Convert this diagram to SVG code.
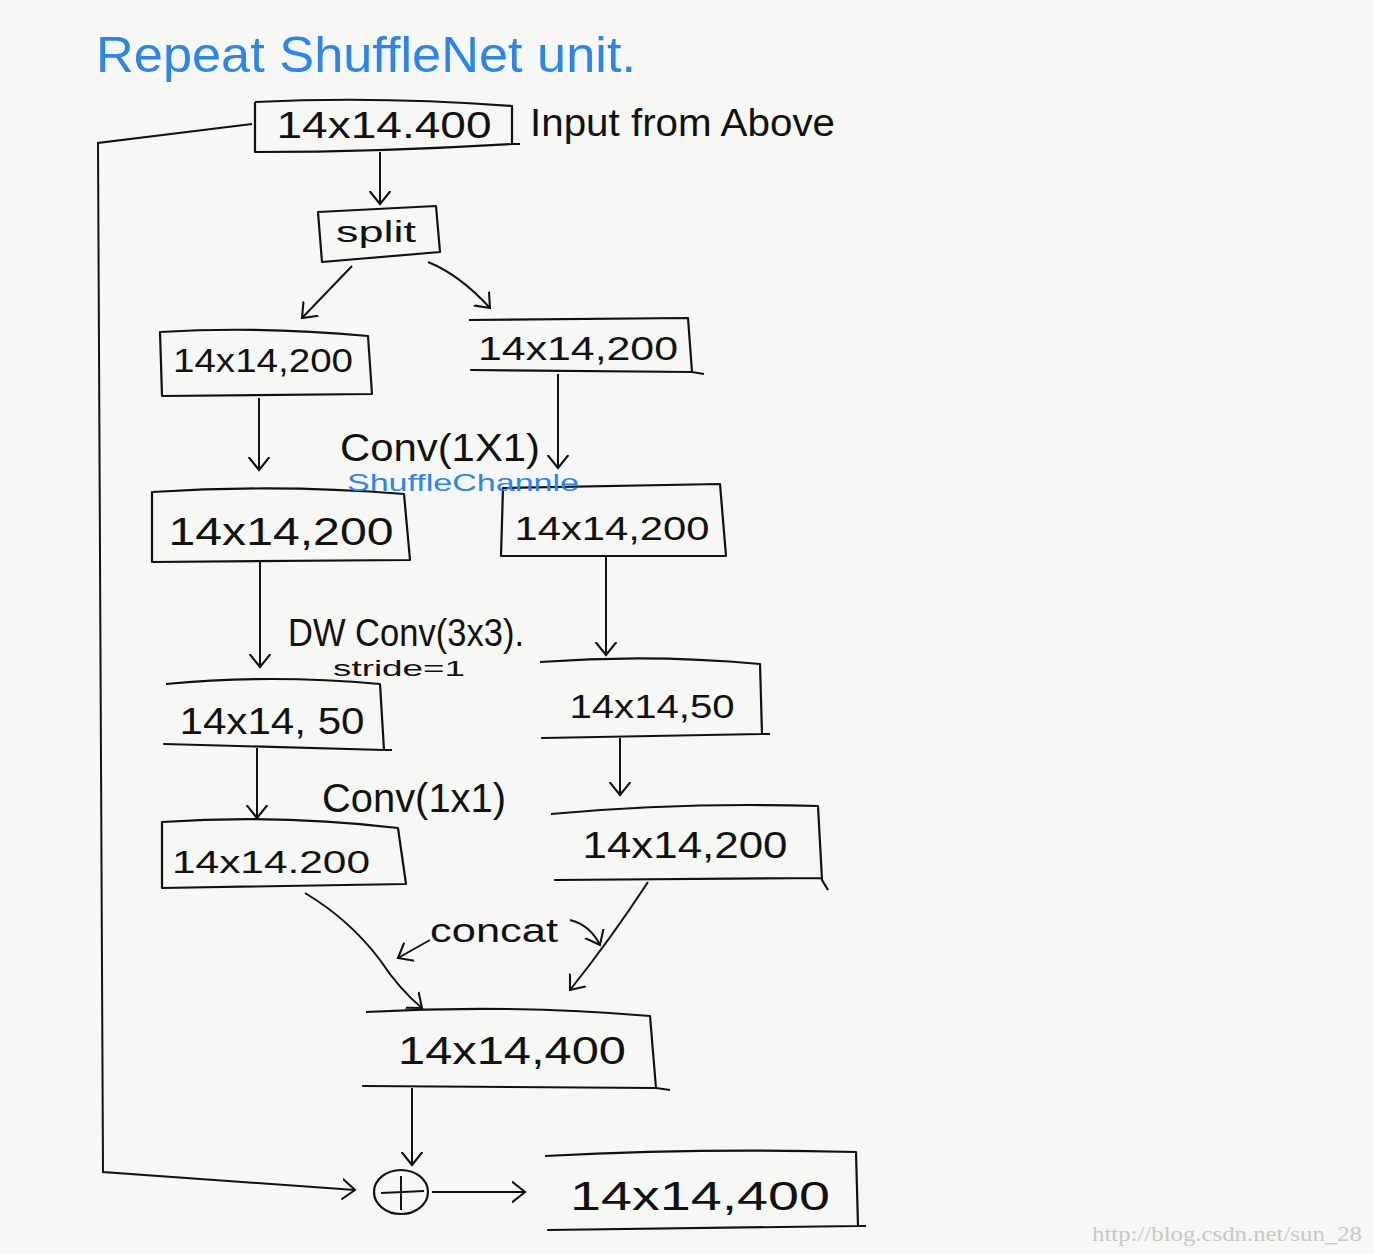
<svg xmlns="http://www.w3.org/2000/svg" width="1374" height="1254" viewBox="0 0 1374 1254">
<defs>
<marker id="ah" viewBox="0 0 20 20" refX="10" refY="10" markerWidth="26" markerHeight="26" markerUnits="userSpaceOnUse" orient="auto">
<path d="M0,2 L10,10 L0,18" fill="none" stroke="#111" stroke-width="1.6"/>
</marker>
</defs>
<style>
.box{fill:none;stroke:#111;stroke-width:2.2;stroke-linejoin:round}
.c{fill:none;stroke:#111;stroke-width:2;marker-end:url(#ah)}
.ln{fill:none;stroke:#111;stroke-width:2}
.t{font-family:"Liberation Sans",Arial,sans-serif;fill:#111}
.b{font-family:"Liberation Sans",Arial,sans-serif;fill:#2a86ea}
</style>
<rect width="1374" height="1254" fill="#f7f7f5"/>
<text class="b" x="96" y="72" font-size="50" textLength="540" lengthAdjust="spacingAndGlyphs">Repeat ShuffleNet unit.</text>

<g id="input">
<path class="box" d="M255,102 Q380,96 512,106 L512,144 L520,144 M512,144 Q380,152 255,152 L255,102"/>
<text class="t" x="384" y="138" font-size="36" text-anchor="middle" textLength="215" lengthAdjust="spacingAndGlyphs">14x14.400</text>
<text class="t" x="530" y="136" font-size="38" textLength="305" lengthAdjust="spacingAndGlyphs">Input from Above</text>
</g>
<g id="split">
<path class="box" d="M318,212 L436,206 L440,252 L322,262 Z"/>
<text class="t" x="376" y="242" font-size="30" text-anchor="middle" textLength="80" lengthAdjust="spacingAndGlyphs">split</text>
</g>
<g id="l1">
<path class="box" d="M160,332 Q260,326 368,336 L372,394 L162,396 Z"/>
<text class="t" x="263" y="372" font-size="34" text-anchor="middle" textLength="180" lengthAdjust="spacingAndGlyphs">14x14,200</text>
</g>
<g id="r1">
<path class="box" d="M469,320 L688,318 L692,372 L704,374 M692,372 L471,370 Z"/>
<text class="t" x="578" y="360" font-size="34" text-anchor="middle" textLength="200" lengthAdjust="spacingAndGlyphs">14x14,200</text>
</g>
<g id="l2">
<path class="box" d="M152,492 Q280,484 404,494 L410,560 L152,562 Z"/>
<text class="t" x="281" y="545" font-size="38" text-anchor="middle" textLength="225" lengthAdjust="spacingAndGlyphs">14x14,200</text>
</g>
<g id="r2">
<path class="box" d="M503,488 L720,484 L726,556 L501,556 Z"/>
<text class="t" x="612" y="540" font-size="34" text-anchor="middle" textLength="195" lengthAdjust="spacingAndGlyphs">14x14,200</text>
</g>
<g id="l3">
<path class="box" d="M166,684 Q270,674 380,684 L384,750 L392,750 M384,750 L164,744 Z"/>
<text class="t" x="272" y="734" font-size="36" text-anchor="middle" textLength="185" lengthAdjust="spacingAndGlyphs">14x14, 50</text>
</g>
<g id="r3">
<path class="box" d="M540,662 Q650,654 760,664 L762,734 L770,734 M762,734 L542,738 Z"/>
<text class="t" x="652" y="718" font-size="34" text-anchor="middle" textLength="165" lengthAdjust="spacingAndGlyphs">14x14,50</text>
</g>
<g id="l4">
<path class="box" d="M162,822 Q280,814 398,828 L406,884 L162,888 Z"/>
<text class="t" x="271" y="873" font-size="32" text-anchor="middle" textLength="198" lengthAdjust="spacingAndGlyphs">14x14.200</text>
</g>
<g id="r4">
<path class="box" d="M551,814 Q680,802 818,806 L822,880 L828,890 M822,878 L555,880 Z"/>
<text class="t" x="685" y="858" font-size="36" text-anchor="middle" textLength="205" lengthAdjust="spacingAndGlyphs">14x14,200</text>
</g>
<g id="merge">
<path class="box" d="M366,1012 Q510,1004 650,1016 L656,1088 L670,1090 M656,1088 L363,1086 Z"/>
<text class="t" x="512" y="1064" font-size="38" text-anchor="middle" textLength="228" lengthAdjust="spacingAndGlyphs">14x14,400</text>
</g>
<g id="add">
<ellipse cx="401" cy="1192" rx="27" ry="22" fill="none" stroke="#111" stroke-width="2.2"/>
<path class="ln" d="M401,1176 L401,1210 M381,1193 L424,1191"/>
</g>
<g id="output">
<path class="box" d="M545,1156 Q700,1148 856,1152 L858,1226 L866,1226 M858,1226 L548,1230 Z"/>
<text class="t" x="700" y="1210" font-size="40" text-anchor="middle" textLength="260" lengthAdjust="spacingAndGlyphs">14x14,400</text>
</g>

<g id="labels">
<text class="t" x="340" y="461" font-size="38" textLength="200" lengthAdjust="spacingAndGlyphs">Conv(1X1)</text>
<text class="b" x="347" y="491" font-size="24" textLength="232" lengthAdjust="spacingAndGlyphs">ShuffleChannle</text>
<text class="t" x="288" y="646" font-size="38" textLength="236" lengthAdjust="spacingAndGlyphs">DW Conv(3x3).</text>
<text class="t" x="333" y="676" font-size="22" textLength="132" lengthAdjust="spacingAndGlyphs">stride=1</text>
<text class="t" x="322" y="812" font-size="40" textLength="184" lengthAdjust="spacingAndGlyphs">Conv(1x1)</text>
<text class="t" x="430" y="942" font-size="34" textLength="128" lengthAdjust="spacingAndGlyphs">concat</text>
<text font-family="Liberation Serif, serif" font-size="20" fill="#c8c8c8" x="1092" y="1241" textLength="270" lengthAdjust="spacingAndGlyphs">http://blog.csdn.net/sun_28</text>
</g>

<g id="connectors">
<path class="c" d="M380,152 L380,204"/>
<path class="c" d="M352,266 L302,318"/>
<path class="c" d="M428,262 Q460,275 490,308"/>
<path class="c" d="M259,398 L259,470"/>
<path class="c" d="M558,374 L558,468"/>
<path class="c" d="M260,562 L260,667"/>
<path class="c" d="M606,557 L606,655"/>
<path class="c" d="M257,748 L257,818"/>
<path class="c" d="M620,738 L620,795"/>
<path class="c" d="M305,893 Q350,920 380,960 Q400,990 422,1008"/>
<path class="c" d="M648,882 Q610,940 570,990"/>
<path class="c" d="M430,940 L398,958"/>
<path class="c" d="M570,920 Q590,925 600,945"/>
<path class="c" d="M412,1088 L412,1165"/>
<path class="c" d="M432,1192 L525,1192"/>
<path class="c" d="M252,124 L98,143 L103,1172 L355,1190"/>
</g>
</svg>
